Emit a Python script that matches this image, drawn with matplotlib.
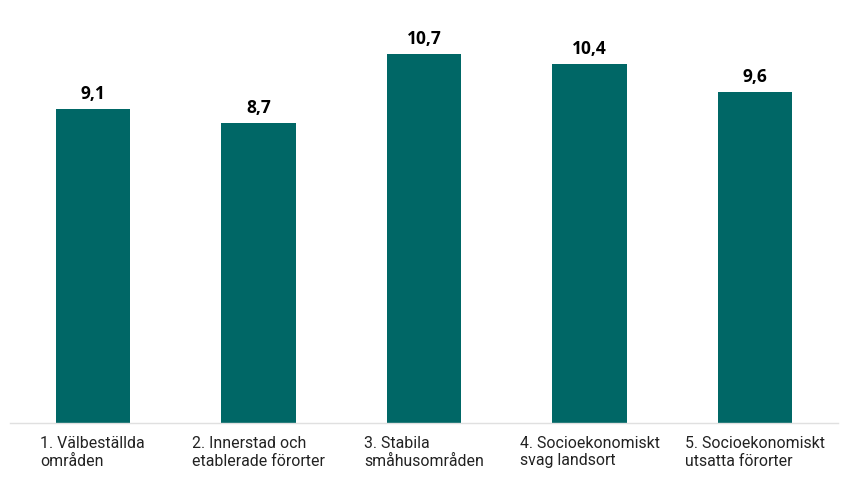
import matplotlib.pyplot as plt

categories = ["1. Välbeställda\nområden", "2. Innerstad och\netablerade förorter",
              "3. Stabila\nsmåhusområden", "4. Socioekonomiskt\nsvag landsort",
              "5. Socioekonomiskt\nutsatta förorter"]
values = [9.1, 8.7, 10.7, 10.4, 9.6]
labels = ["9,1", "8,7", "10,7", "10,4", "9,6"]

fig = plt.figure(figsize=(8.49, 4.78), dpi=100)
ax = fig.add_axes([10 / 849, 1 - 423 / 478, 828 / 849, 423 / 478])
x = range(len(values))
ax.bar(x, values, width=0.45, color="#006766")
for i, v in enumerate(values):
    ax.annotate(labels[i], (i, v), xytext=(0, 4), textcoords="offset points",
                ha="center", va="bottom", fontsize=12.5, fontweight="bold",
                family="Open Sans", color="black")

ax.set_xlim(-0.5, 4.5)
ax.set_ylim(0, 12.25)
ax.set_yticks([])
ax.set_xticks(list(x))
ax.set_xticklabels(categories, fontsize=11.4, family="Roboto", color="#222222",
                   multialignment="left", linespacing=1.25)
ax.tick_params(axis="x", length=0, pad=9)
for s in ["top", "right", "left"]:
    ax.spines[s].set_visible(False)
ax.spines["bottom"].set_color("#e0e0e0")
ax.spines["bottom"].set_linewidth(1)

fig.savefig("out.png", dpi=100)
